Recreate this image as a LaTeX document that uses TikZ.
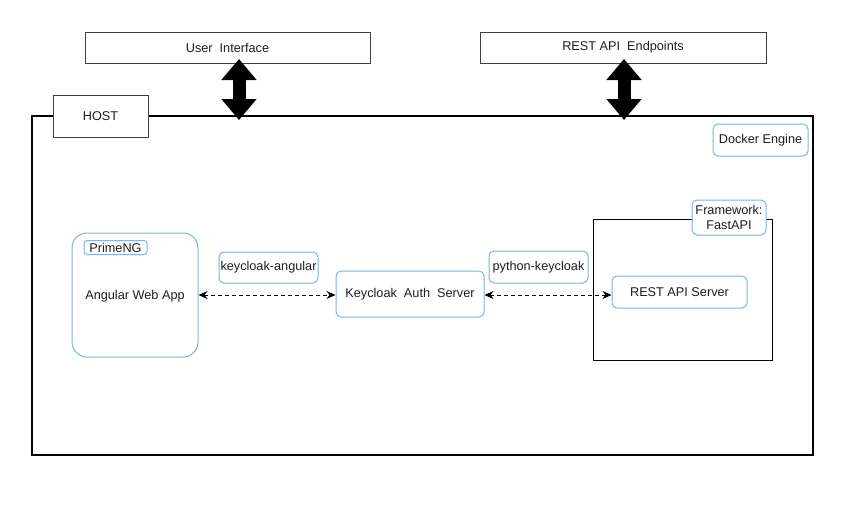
\documentclass[tikz,border=0pt]{standalone}
\usepackage{fontspec}
\setmainfont{Liberation Sans}
\usetikzlibrary{arrows.meta}
\definecolor{bblue}{RGB}{126,178,232}
\definecolor{tgray}{RGB}{30,30,30}
\begin{document}
\begin{tikzpicture}[x=1pt,y=-1pt,
  every node/.style={font=\fontsize{12.7}{15}\selectfont, text=tgray, inner sep=0pt, align=center},
  plainbox/.style={draw=black!75, line width=0.8pt},
  bluebox/.style={draw=bblue, line width=1pt, rounded corners=5pt, fill=white},
  bigarrow/.style={line width=13pt, {Triangle[width=34pt,length=21pt]}-{Triangle[width=34pt,length=21pt]}},
  dasharrow/.style={dash pattern=on 4pt off 3pt, line width=0.9pt, {Stealth[length=9pt,width=8pt]}-{Stealth[length=9pt,width=8pt]}}]
\useasboundingbox (0,0) rectangle (864,519);
% host frame
\draw[line width=2.5pt] (32,116) rectangle (813,455);
\node[plainbox, fill=white, minimum width=95pt, minimum height=42pt] (host) at (100.5,116) {HOST};
% top boxes
\node[plainbox, minimum width=285pt, minimum height=31pt] (ui) at (227.5,47.5) {User\ \ Interface};
\node[plainbox, minimum width=286pt, minimum height=31pt] (rest) at (623,47.5) {REST API\ \ Endpoints};
\coordinate (uiend) at (239,120);
\coordinate (restend) at (624,120);
\coordinate (uistart) at (239,59);
\coordinate (reststart) at (624,59);
\draw[bigarrow] (uistart) -- (uiend);
\draw[bigarrow] (reststart) -- (restend);
% docker engine
\node[bluebox, minimum width=95pt, minimum height=32pt] (docker) at (760.5,140) {Docker Engine};
% framework rect
\draw[line width=0.8pt] (593,219) rectangle (772,360);
\node[bluebox, minimum width=74pt, minimum height=35pt] (fw) at (729,217.5) {Framework:\\FastAPI};
% angular
\node[draw=bblue, line width=1pt, rounded corners=15pt, minimum width=126pt, minimum height=124pt] (ang) at (135,295) {};
\node (angt) at (135,296) {Angular Web App};
\node[bluebox, rounded corners=3pt, minimum width=63pt, minimum height=14pt] (prime) at (115.5,247.5) {PrimeNG};
\node[bluebox, minimum width=99pt, minimum height=31pt] (ka) at (268.5,267.5) {keycloak-angular};
\node[bluebox, minimum width=148pt, minimum height=46pt] (kc) at (410,294) {Keycloak\ \ Auth\ \ Server};
\node[bluebox, minimum width=99pt, minimum height=32pt] (pk) at (538.5,267) {python-keycloak};
\node[bluebox, minimum width=135pt, minimum height=32pt] (ras) at (679.5,292) {REST API Server};
\draw[dasharrow] (ang.east) -- (ang.east -| kc.west);
\draw[dasharrow] ([yshift=-1pt]kc.east) -- ([yshift=-1pt]kc.east -| ras.west);
\end{tikzpicture}
\end{document}
